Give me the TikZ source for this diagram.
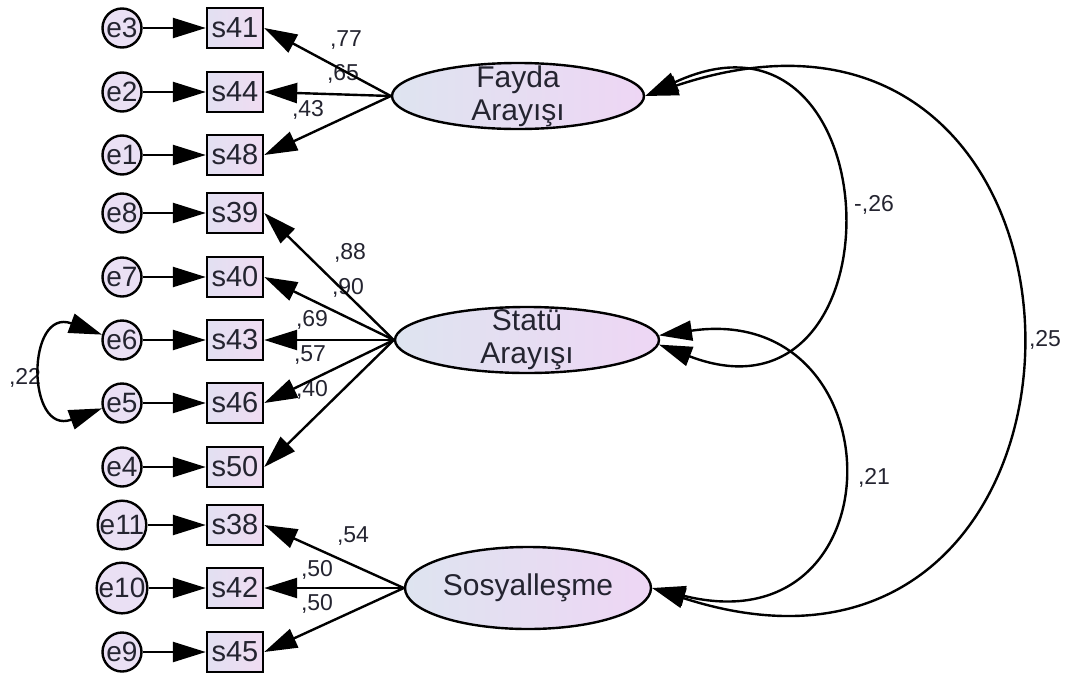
\documentclass[tikz,border=0pt]{standalone}
\usepackage{fontspec}
\setmainfont{Liberation Sans}
\usetikzlibrary{positioning,shapes.geometric,arrows.meta}
\definecolor{latleft}{RGB}{222,228,240}
\definecolor{latright}{RGB}{238,214,244}
\definecolor{obsleft}{RGB}{226,224,242}
\definecolor{obsright}{RGB}{240,220,242}
\definecolor{errfill}{RGB}{234,224,244}
\definecolor{txtgray}{RGB}{36,36,48}

\begin{document}
\begin{tikzpicture}[x=1pt,y=-1pt,line width=2.4pt,
		>={Triangle[length=33pt,width=20pt]},
		obs/.style={draw,rectangle,minimum width=56pt,minimum height=40pt,inner sep=0pt,left color=obsleft,right color=obsright,text=txtgray,font=\fontsize{29}{30}\selectfont},
		err/.style={draw,circle,minimum size=39pt,inner sep=0pt,fill=errfill,text=txtgray,font=\fontsize{28}{30}\selectfont},
		lat/.style={draw,ellipse,inner sep=0pt,left color=latleft,right color=latright},
		latname/.style={align=center,text=txtgray,font=\fontsize{30}{33}\selectfont},
		coef/.style={inner sep=0pt,text=txtgray,font=\fontsize{23}{23}\selectfont},
		reg/.style={->},
		cov/.style={<->}]
		\useasboundingbox (0,0) rectangle (1067,675);
		% latent variables
		\node [lat,minimum width=252pt,minimum height=66pt,label={[latname]center:Fayda\\Arayışı}] (fay) at (518,96) {};
		\node [lat,minimum width=264pt,minimum height=66pt,label={[latname]center:Statü\\Arayışı}] (sta) at (527,340) {};
		\node [lat,minimum width=246pt,minimum height=82pt,label={[latname]center:Sosyalleşme}] (sos) at (528,588) {};
		% observed items
		\node [obs] (s41) at (235,28) {s41};
		\node [obs] (s44) at (235,92) {s44};
		\node [obs] (s48) at (235,155) {s48};
		\node [obs] (s39) at (235,213) {s39};
		\node [obs] (s40) at (235,277) {s40};
		\node [obs] (s43) at (235,340) {s43};
		\node [obs] (s46) at (235,403) {s46};
		\node [obs] (s50) at (235,467) {s50};
		\node [obs] (s38) at (235,525) {s38};
		\node [obs] (s42) at (235,588) {s42};
		\node [obs] (s45) at (235,652) {s45};
		% error terms
		\node [err] (e3) at (122,28) {e3};
		\node [err] (e2) at (122,92) {e2};
		\node [err] (e1) at (122,155) {e1};
		\node [err] (e8) at (122,213) {e8};
		\node [err] (e7) at (122,277) {e7};
		\node [err] (e6) at (122,340) {e6};
		\node [err] (e5) at (122,403) {e5};
		\node [err] (e4) at (122,467) {e4};
		\node [err] (e11) at (122,525) {e11};
		\node [err] (e10) at (122,588) {e10};
		\node [err] (e9) at (122,652) {e9};
		% estimates
		\node [coef] (w41) at (346,40) {,77};
		\node [coef] (w44) at (343,74) {,65};
		\node [coef] (w48) at (308,110) {,43};
		\node [coef] (w39) at (350,253) {,88};
		\node [coef] (w40) at (348,288) {,90};
		\node [coef] (w43) at (312,320) {,69};
		\node [coef] (w46) at (310,355) {,57};
		\node [coef] (w50) at (312,390) {,40};
		\node [coef] (w38) at (353,536) {,54};
		\node [coef] (w42) at (317,570) {,50};
		\node [coef] (w45) at (317,604) {,50};
		\node [coef] (r56) at (25,378) {,22};
		\node [coef] (rfs) at (874,205) {-,26};
		\node [coef] (rss) at (874,478) {,21};
		\node [coef] (rfo) at (1045,340) {,25};
		% error paths
		\draw [reg] (e3) -- (s41);
		\draw [reg] (e2) -- (s44);
		\draw [reg] (e1) -- (s48);
		\draw [reg] (e8) -- (s39);
		\draw [reg] (e7) -- (s40);
		\draw [reg] (e6) -- (s43);
		\draw [reg] (e5) -- (s46);
		\draw [reg] (e4) -- (s50);
		\draw [reg] (e11) -- (s38);
		\draw [reg] (e10) -- (s42);
		\draw [reg] (e9) -- (s45);
		% loadings
		\draw [reg] (fay.west) -- (s41.east);
		\draw [reg] (fay.west) -- (s44.east);
		\draw [reg] (fay.west) -- (s48.east);
		\draw [reg] (sta.west) -- (s39.east);
		\draw [reg] (sta.west) -- (s40.east);
		\draw [reg] (sta.west) -- (s43.east);
		\draw [reg] (sta.west) -- (s46.east);
		\draw [reg] (sta.west) -- (s50.east);
		\draw [reg] (sos.west) -- (s38.east);
		\draw [reg] (sos.west) -- (s42.east);
		\draw [reg] (sos.west) -- (s45.east);
		% covariances
		\draw [cov] (e6.165) .. controls +(-76,-28) and +(-76,28) .. (e5.195);
		\draw [cov] (fay.east) .. controls +(250,-116) and +(248,95) .. (sta.-2);
		\draw [cov] (sta.2) .. controls +(240,-35) and +(250,62) .. (sos.east);
		\draw [cov] (fay.east) .. controls +(496,-166) and +(488,158) .. (sos.east);
\end{tikzpicture}
\end{document}
